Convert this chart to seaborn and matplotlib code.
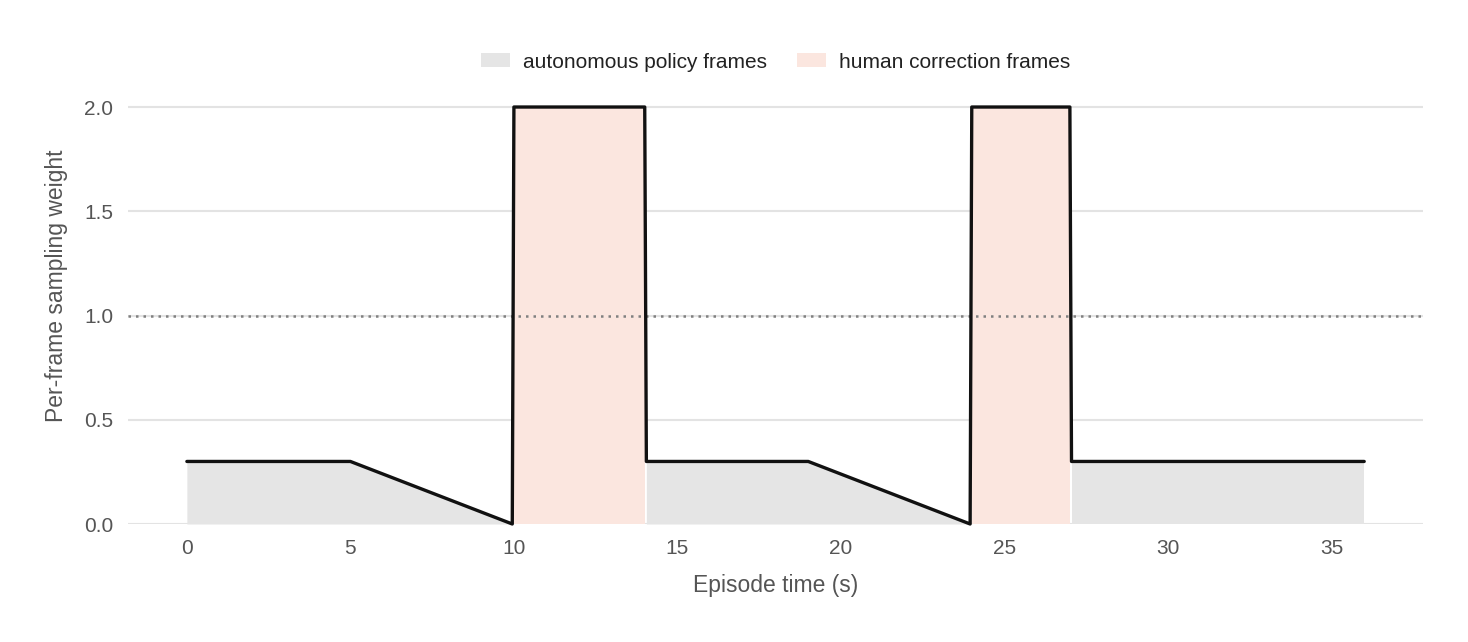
import itertools

import matplotlib
matplotlib.use("Agg")
import matplotlib.pyplot as plt
import numpy as np
import pandas as pd
import seaborn as sns
from matplotlib.patches import Patch

# per-frame sampling weight along the episode (breakpoints of the curve)
time_s = [0, 5, 9.95, 10.0, 14.0, 14.05, 19, 23.95, 24.0, 27.0, 27.05, 36]
weight = [0.3, 0.3, 0.0, 2.0, 2.0, 0.3, 0.3, 0.0, 2.0, 2.0, 0.3, 0.3]
segment = ["auto", "auto", "auto", "human", "human",
           "auto", "auto", "auto", "human", "human", "auto", "auto"]

x_ticks = [0, 5, 10, 15, 20, 25, 30, 35]
y_ticks = [0.0, 0.5, 1.0, 1.5, 2.0]
baseline_weight = 1.0

FILL_COLORS = {"auto": "#e5e5e5", "human": "#fbe6df"}
LEGEND_LABELS = {"auto": "autonomous policy frames", "human": "human correction frames"}

df = pd.DataFrame({"time": time_s, "weight": weight, "segment": segment})

sns.set_theme(style="whitegrid")
plt.rcParams["font.family"] = ["Liberation Sans", "DejaVu Sans"]

fig = plt.figure(figsize=(14.68, 6.42), dpi=100)
# axes reaches up to the legend row; y range leaves headroom above 2.0
ax = fig.add_axes([0.0872, 0.1838, 0.8822, 0.7414])

# shaded areas under each run of frames
for seg, run in itertools.groupby(df.itertuples(), key=lambda r: r.segment):
    run = list(run)
    xs = [r.time for r in run]
    ys = [r.weight for r in run]
    ax.fill_between(xs, 0, ys, color=FILL_COLORS[seg], linewidth=0, zorder=1)

ax.axhline(baseline_weight, color="#808080", lw=1.8, linestyle=(0, (1, 2)), zorder=2)

sns.lineplot(data=df, x="time", y="weight", color="#111111", lw=2.4,
             estimator=None, sort=False, ax=ax, zorder=3, clip_on=False)

ax.set_xlim(-1.8, 37.8)
ax.set_ylim(0, 2.283)
ax.set_xticks(x_ticks)
ax.set_yticks(y_ticks)
ax.set_yticklabels([f"{v:.1f}" for v in y_ticks])
ax.grid(axis="x", visible=False)
ax.grid(axis="y", color="#e3e3e3", lw=1.5)
for s in ax.spines.values():
    s.set_visible(False)
ax.tick_params(axis="both", length=0, labelsize=15, labelcolor="#555555")
ax.tick_params(axis="x", pad=10.5)
ax.tick_params(axis="y", pad=10.5)

ax.set_xlabel("Episode time (s)", fontsize=16.5, color="#555555", labelpad=12)
ax.set_ylabel("Per-frame sampling weight", fontsize=16.5, color="#555555", labelpad=12)

handles = [Patch(facecolor=FILL_COLORS[k], edgecolor="none", label=LEGEND_LABELS[k])
           for k in ["auto", "human"]]
leg_y = (524 - 62) / (524 - 48)
ax.legend(handles=handles, loc="center", bbox_to_anchor=(0.5, leg_y), ncol=2,
          frameon=False, fontsize=15, handlelength=1.4, handleheight=0.67,
          handletextpad=0.63, columnspacing=1.44, labelcolor="#222222")

fig.savefig("out.png", dpi=100)
